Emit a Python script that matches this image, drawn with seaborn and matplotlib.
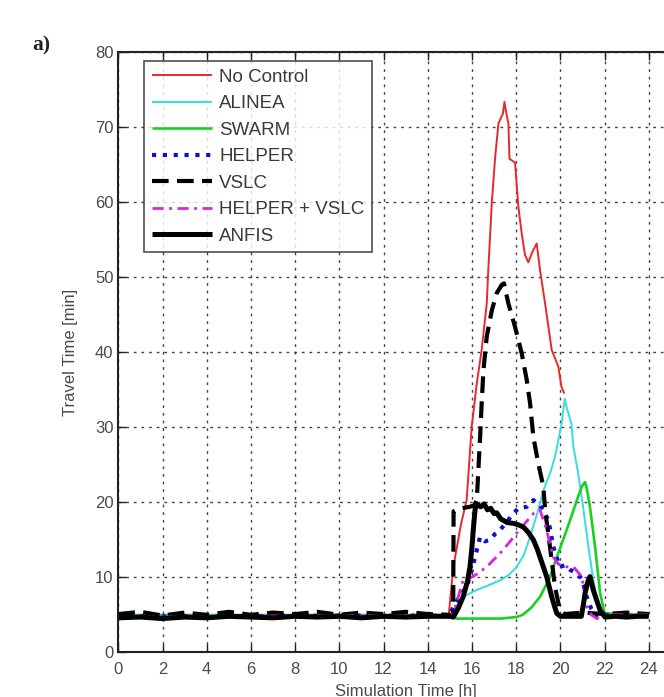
import matplotlib
matplotlib.use("Agg")
import matplotlib.pyplot as plt
import seaborn as sns
import numpy as np
import pandas as pd

# Simulation time [h] and travel time [min] for each control strategy
t_nocontrol = [0, 3, 6, 9, 12, 14.95, 15.16, 15.5, 15.76, 15.99, 16.22, 16.44, 16.67, 16.74, 16.9,
               17.05, 17.2, 17.3, 17.4, 17.47, 17.55, 17.65, 17.7, 17.95, 18.1, 18.25, 18.4,
               18.55, 18.75, 18.93, 19.08, 19.31, 19.61, 19.91, 20.05, 20.18]
tt_nocontrol = [5.0, 5.0, 5.0, 5.0, 5.0, 5.0, 11.4, 17.0, 20.3, 30.1, 35.9, 40.3, 46.5, 51.0, 60.0,
                66.0, 70.5, 71.2, 71.8, 73.4, 72.0, 70.5, 65.8, 65.3, 59.4, 55.9, 53.0,
                52.0, 53.5, 54.5, 51.0, 46.5, 40.3, 38.1, 35.4, 34.5]

t_alinea = [0, 5, 10, 15.0, 15.16, 15.6, 16.2, 16.8, 17.27, 17.7, 18.03, 18.35, 18.63, 18.95,
            19.23, 19.55, 19.76, 20.06, 20.2, 20.3, 20.5, 20.59, 20.8, 20.97, 21.27, 21.49,
            21.8, 22.0, 24.0]
tt_alinea = [5.0, 5.0, 5.0, 5.0, 5.6, 7.4, 8.3, 9.0, 9.6, 10.4, 11.4, 13.0, 15.4, 18.5,
             21.6, 24.0, 26.1, 30.5, 33.8, 32.5, 30.5, 27.4, 24.0, 20.7, 14.1, 9.6,
             5.2, 5.0, 5.0]

t_swarm = [0, 5, 10, 15.0, 15.3, 16.5, 17.3, 18.0, 18.3, 18.7, 19.08, 19.5, 19.84, 20.15,
           20.44, 20.75, 20.97, 21.12, 21.2, 21.34, 21.57, 21.8, 22.0, 24.0]
tt_swarm = [4.9, 4.9, 4.9, 4.9, 4.5, 4.5, 4.5, 4.7, 5.0, 6.0, 7.4, 9.8, 12.7, 15.2,
            17.6, 20.3, 22.1, 22.7, 21.8, 19.4, 14.1, 7.9, 5.2, 5.0]

t_helper = [0, 5, 10, 15.0, 15.16, 15.45, 15.76, 16.0, 16.14, 16.37, 16.6, 16.82, 17.05,
            17.27, 17.55, 17.87, 18.1, 18.48, 18.78, 19.08, 19.3, 19.46, 19.68, 19.85,
            19.98, 20.2, 20.44, 20.7, 20.89, 21.05, 21.19, 21.4, 21.65, 22.0, 24.0]
tt_helper = [4.8, 4.8, 4.9, 4.9, 6.1, 7.5, 8.7, 11.0, 12.7, 15.4, 14.8, 15.0, 15.8,
             16.3, 17.3, 18.5, 19.2, 19.4, 20.3, 19.6, 18.5, 17.6, 14.1, 12.5,
             11.4, 11.6, 11.0, 10.6, 10.1, 9.0, 7.4, 5.8, 4.7, 5.0, 5.0]

t_vslc = [0, 1, 2, 3, 4, 5, 6, 7, 8, 9, 10, 11, 12, 13, 14, 15.0, 15.15, 15.17, 15.5, 15.9,
          16.1, 16.22, 16.29, 16.37, 16.44, 16.52, 16.67, 16.9, 17.12, 17.35, 17.45, 17.65,
          17.95, 18.25, 18.48, 18.63, 18.78, 19.0, 19.23, 19.31, 19.53, 19.76, 19.98, 20.2,
          21.0, 22.0, 23.0, 24.0]
tt_vslc = [5.1, 5.4, 4.9, 5.3, 5.0, 5.4, 5.0, 5.3, 5.1, 5.4, 5.0, 5.3, 5.1, 5.4, 5.1, 5.0, 5.0,
           18.8, 19.2, 19.4, 19.6, 20.3, 24.3, 28.7, 33.2, 37.6, 42.1, 45.6, 47.9, 49.0, 49.2,
           46.5, 43.4, 39.9, 36.3, 33.2, 28.7, 25.2, 22.1, 19.0, 14.1, 8.7, 5.6, 5.1,
           5.3, 5.1, 5.3, 5.1]

t_helper_vslc = [0, 5, 10, 15.0, 15.16, 15.6, 16.06, 16.67, 17.27, 17.65, 18.03, 18.4, 18.78,
                 19.08, 19.38, 19.68, 19.9, 20.14, 20.59, 20.97, 21.19, 21.4, 21.65, 22.0, 24.0]
tt_helper_vslc = [4.7, 4.8, 4.9, 4.9, 5.2, 9.6, 10.1, 11.4, 13.2, 14.5, 15.9, 17.2, 18.5,
                  19.0, 16.3, 12.7, 11.8, 11.4, 11.4, 10.1, 6.1, 5.0, 4.5, 5.0, 5.0]

t_anfis = [0, 1, 2, 3, 4, 5, 6, 7, 8, 9, 10, 11, 12, 13, 14, 15.0, 15.16, 15.4, 15.6, 15.8,
           15.91, 16.0, 16.06, 16.14, 16.2, 16.4, 16.55, 16.7, 16.85, 17.0, 17.12, 17.3, 17.42,
           17.6, 17.87, 18.1, 18.33, 18.55, 18.78, 18.95, 19.08, 19.23, 19.38, 19.5, 19.61,
           19.75, 19.84, 20.0, 20.5, 20.95, 21.05, 21.12, 21.25, 21.34, 21.42, 21.49, 21.65,
           21.8, 22.02, 22.5, 23.0, 23.5, 24.0]
tt_anfis = [4.6, 4.7, 4.5, 4.7, 4.6, 4.8, 4.7, 4.6, 4.8, 4.7, 4.8, 4.6, 4.8, 4.7, 4.8, 4.8,
            4.7, 6.0, 7.4, 9.5, 11.4, 14.0, 16.3, 19.0, 19.8, 19.4, 19.8, 19.0, 19.2, 18.5,
            18.6, 17.8, 17.6, 17.3, 17.2, 17.0, 16.7, 16.0, 15.0, 13.8, 12.7, 11.4, 10.1, 8.7,
            7.4, 6.0, 5.2, 4.8, 4.8, 4.8, 6.5, 7.9, 9.5, 10.1, 9.2, 8.3, 6.9, 5.6, 4.7, 4.8,
            4.7, 4.8, 4.8]

strategy_names = ["No Control", "ALINEA", "SWARM", "HELPER", "VSLC", "HELPER + VSLC", "ANFIS"]
x_ticks = list(range(0, 25, 2))
y_ticks = list(range(0, 81, 10))

series = [
    (t_nocontrol, tt_nocontrol, dict(color="#e8292b", lw=1.4, linestyle="-")),
    (t_alinea, tt_alinea, dict(color="#35dde0", lw=1.4, linestyle="-")),
    (t_swarm, tt_swarm, dict(color="#19d11f", lw=1.9, linestyle="-")),
    (t_helper, tt_helper, dict(color="#1010d0", lw=3.0, linestyle=(0, (1, 1.6)))),
    (t_vslc, tt_vslc, dict(color="black", lw=3.0, linestyle=(0, (4, 2)))),
    (t_helper_vslc, tt_helper_vslc, dict(color="#dd22dd", lw=2.0, linestyle=(0, (4, 2, 1, 2)))),
    (t_anfis, tt_anfis, dict(color="black", lw=3.6, linestyle="-")),
]

sns.set_theme(style="white")
plt.rcParams["font.family"] = ["Liberation Sans", "DejaVu Sans"]

fig = plt.figure(figsize=(6.64, 6.97), dpi=100)
ax = fig.add_axes([0.1782, 0.0641, 0.8654, 0.8608])

for name, (t, v, style) in zip(strategy_names, series):
    df = pd.DataFrame({"t": t, "v": v})
    sns.lineplot(data=df, x="t", y="v", ax=ax, estimator=None, sort=False,
                 label=name, solid_capstyle="butt", dash_capstyle="butt", **style)

ax.set_xlim(0, 26)
ax.set_ylim(0, 80)
ax.set_xticks(x_ticks)
ax.set_yticks(y_ticks)
ax.grid(True, color="#444444", linestyle=(0, (2.0, 3.5)), lw=1.0)
ax.set_axisbelow(True)

for side in ["left", "bottom", "top"]:
    ax.spines[side].set_color("#222222")
    ax.spines[side].set_linewidth(1.5)
ax.spines["right"].set_visible(False)

ax.tick_params(axis="both", direction="in", length=6, width=1.0, colors="#222222",
               labelsize=12, labelcolor="#4a4a4a", top=True, bottom=True, left=True)
ax.tick_params(axis="x", pad=7)

ax.set_xlabel("Simulation Time [h]", fontsize=12, color="#4a4a4a", labelpad=5)
ax.set_ylabel("Travel Time [min]", fontsize=12, color="#4a4a4a", labelpad=12)

leg = ax.legend(loc="upper left", bbox_to_anchor=(0.0447, 0.9855), borderaxespad=0,
                fontsize=13.5, frameon=True, fancybox=False, handlelength=3.2,
                handletextpad=0.4, labelspacing=0.5, borderpad=0.4)
leg.get_frame().set_edgecolor("#222222")
leg.get_frame().set_linewidth(1.2)
for txt in leg.get_texts():
    txt.set_color("#3a3a3a")

fig.text(0.049, 0.928, "a)", fontsize=15.5, fontweight="bold", family="Liberation Serif",
         color="#222222")

fig.savefig("out.png", dpi=100)
